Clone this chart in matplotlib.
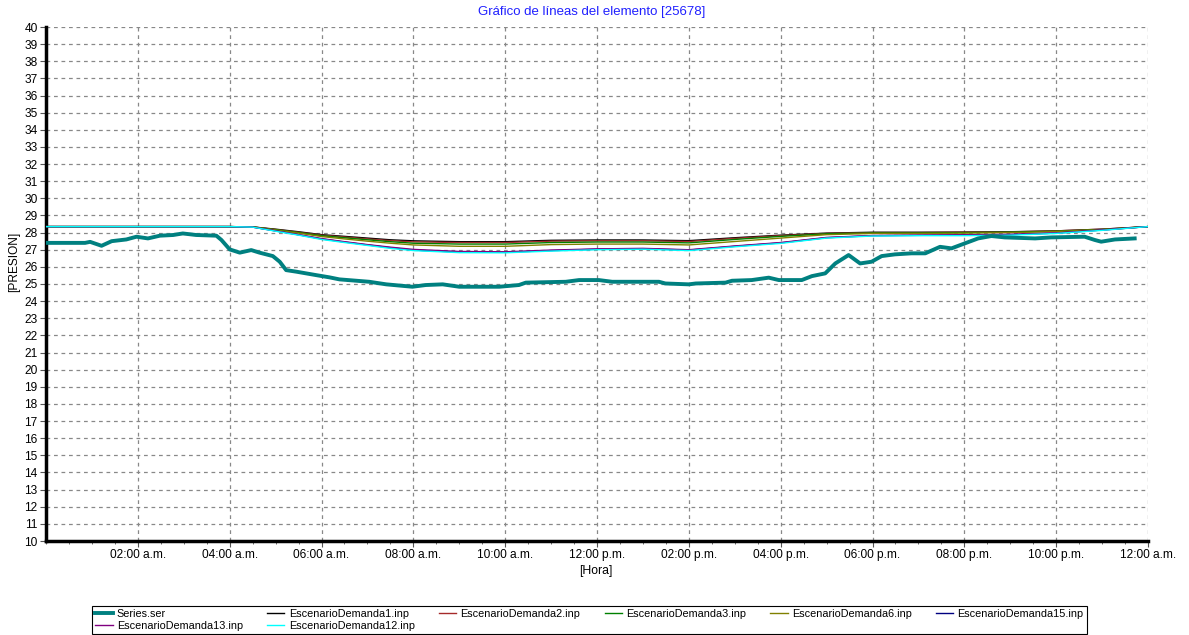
import numpy as np
from matplotlib import pyplot as plt
from matplotlib.ticker import MultipleLocator, FixedLocator

plt.rcParams['font.family'] = ['Liberation Sans', 'DejaVu Sans']

# medicion (hora del dia, presion)
series_h = [0, 0.85, 0.96, 1.21, 1.43, 1.75, 1.97, 2.22, 2.48, 2.77, 2.98, 3.27, 3.71, 3.82, 4.0,
            4.22, 4.47, 4.65, 4.94, 5.09, 5.23, 5.45, 5.88, 6.17, 6.39, 7.04, 7.41, 7.98, 8.27, 8.64,
            9.0, 9.87, 10.3, 10.45, 11.32, 11.61, 12.04, 12.33, 13.35, 13.49, 14.0, 14.15, 14.8, 14.94,
            15.37, 15.74, 15.96, 16.46, 16.68, 16.97, 17.19, 17.48, 17.73, 17.98, 18.2, 18.49, 18.85,
            19.15, 19.47, 19.72, 20.01, 20.3, 20.59, 20.88, 21.54, 21.89, 22.62, 22.84, 22.98, 23.28, 23.71]
series_v = [27.4, 27.4, 27.46, 27.23, 27.5, 27.6, 27.76, 27.66, 27.82, 27.86, 27.95, 27.86, 27.82, 27.57, 27.02,
            26.83, 26.98, 26.83, 26.63, 26.3, 25.81, 25.72, 25.52, 25.39, 25.27, 25.13, 24.98, 24.84, 24.94, 24.98,
            24.84, 24.84, 24.94, 25.08, 25.13, 25.23, 25.23, 25.13, 25.13, 25.03, 24.98, 25.03, 25.08, 25.19,
            25.23, 25.37, 25.23, 25.23, 25.46, 25.62, 26.2, 26.69, 26.2, 26.3, 26.63, 26.73, 26.79,
            26.79, 27.17, 27.08, 27.37, 27.66, 27.8, 27.72, 27.66, 27.72, 27.76, 27.57, 27.47, 27.6, 27.66]

# escenarios simulados
scen_h = [0, 1, 2, 3, 4, 4.5, 5, 5.5, 6, 6.5, 7, 7.5, 8, 9, 10, 11, 12, 13, 14, 15, 16, 17, 18, 19, 20, 21, 22, 23, 24]
dem1 = [28.35, 28.35, 28.35, 28.35, 28.35, 28.33, 28.2, 28.05, 27.88, 27.78, 27.68, 27.58, 27.52, 27.47, 27.47,
        27.55, 27.57, 27.57, 27.53, 27.7, 27.85, 27.97, 28.02, 28.02, 28.03, 28.05, 28.1, 28.2, 28.35]
dem2 = [28.35, 28.35, 28.35, 28.35, 28.35, 28.33, 28.18, 28.02, 27.85, 27.74, 27.63, 27.53, 27.46, 27.42, 27.42,
        27.5, 27.52, 27.52, 27.48, 27.66, 27.82, 27.95, 28.0, 28.0, 28.02, 28.04, 28.1, 28.2, 28.35]
dem3 = [28.35, 28.35, 28.35, 28.35, 28.35, 28.33, 28.17, 28.0, 27.82, 27.7, 27.58, 27.47, 27.38, 27.33, 27.33,
        27.42, 27.45, 27.45, 27.4, 27.6, 27.78, 27.93, 27.98, 27.98, 28.0, 28.03, 28.08, 28.18, 28.35]
dem6 = [28.35, 28.35, 28.35, 28.35, 28.35, 28.33, 28.15, 27.97, 27.77, 27.63, 27.5, 27.38, 27.28, 27.2, 27.2,
        27.3, 27.33, 27.33, 27.28, 27.48, 27.68, 27.88, 27.95, 27.95, 27.97, 28.0, 28.06, 28.17, 28.35]
dem15 = [28.35, 28.35, 28.35, 28.35, 28.35, 28.32, 28.1, 27.87, 27.63, 27.45, 27.28, 27.12, 26.98, 26.86, 26.85,
         26.95, 27.03, 27.06, 26.98, 27.2, 27.4, 27.7, 27.82, 27.84, 27.86, 27.88, 27.97, 28.15, 28.35]
dem13 = [28.35, 28.35, 28.35, 28.35, 28.35, 28.32, 28.1, 27.88, 27.65, 27.47, 27.3, 27.15, 27.02, 26.9, 26.88,
         26.98, 27.05, 27.08, 27.0, 27.22, 27.42, 27.72, 27.83, 27.85, 27.87, 27.9, 27.98, 28.15, 28.35]
dem12 = [28.35, 28.35, 28.35, 28.35, 28.35, 28.32, 28.08, 27.85, 27.6, 27.42, 27.25, 27.08, 26.95, 26.83, 26.82,
         26.92, 27.0, 27.03, 26.95, 27.17, 27.37, 27.68, 27.8, 27.82, 27.82, 27.85, 27.95, 28.13, 28.35]

scenarios = [
    ("EscenarioDemanda1.inp", dem1, "#000000"),
    ("EscenarioDemanda2.inp", dem2, "#a52a2a"),
    ("EscenarioDemanda3.inp", dem3, "#008000"),
    ("EscenarioDemanda6.inp", dem6, "#808000"),
    ("EscenarioDemanda15.inp", dem15, "#000080"),
    ("EscenarioDemanda13.inp", dem13, "#800080"),
    ("EscenarioDemanda12.inp", dem12, "#00ffff"),
]

x_ticks = [2, 4, 6, 8, 10, 12, 14, 16, 18, 20, 22, 24]
x_labels = ["02:00 a.m.", "04:00 a.m.", "06:00 a.m.", "08:00 a.m.", "10:00 a.m.", "12:00 p.m.",
            "02:00 p.m.", "04:00 p.m.", "06:00 p.m.", "08:00 p.m.", "10:00 p.m.", "12:00 a.m."]

fig = plt.figure(figsize=(11.89, 6.35), dpi=100)
ax = fig.add_axes([46 / 1189, 1 - 541 / 635, (1148 - 46) / 1189, (541 - 27) / 635])

handles = {}
h, = ax.plot(series_h, series_v, color="#008080", lw=2.8, label="Series.ser", zorder=5)
handles["Series.ser"] = h
for name, vals, col in scenarios:
    h, = ax.plot(scen_h, vals, color=col, lw=1.0, label=name, zorder=4)
    handles[name] = h

ax.set_xlim(0, 24)
ax.set_ylim(10, 40)
ax.yaxis.set_major_locator(MultipleLocator(1))
ax.xaxis.set_major_locator(FixedLocator(x_ticks))
ax.xaxis.set_minor_locator(MultipleLocator(0.5))
ax.set_xticklabels(x_labels)
ax.tick_params(axis="both", which="major", labelsize=8.6, length=4, color="#555555", pad=2)
ax.tick_params(axis="x", which="minor", length=2.5, color="#555555")
ax.grid(True, which="major", color="#888888", linestyle=(0, (3, 3)), lw=0.9)
for s in ["top", "right"]:
    ax.spines[s].set_visible(False)
ax.spines["left"].set_linewidth(2.5)
ax.spines["bottom"].set_linewidth(2.5)

fig.text(592 / 1189, 1 - 12 / 635, "Gráfico de líneas del elemento [25678]", color="#2020ff",
         ha="center", va="center", fontsize=9.5)
fig.text(14 / 1189, 1 - 262 / 635, "[PRESION]", rotation=90, ha="center", va="center", fontsize=8.6)
fig.text(596 / 1189, 1 - 571 / 635, "[Hora]", ha="center", va="center", fontsize=8.8)

# orden por columnas para que la leyenda quede por filas
order = ["Series.ser", "EscenarioDemanda13.inp", "EscenarioDemanda1.inp", "EscenarioDemanda12.inp",
         "EscenarioDemanda2.inp", "EscenarioDemanda3.inp", "EscenarioDemanda6.inp", "EscenarioDemanda15.inp"]
leg = fig.legend([handles[k] for k in order], order, loc="lower left",
                 bbox_to_anchor=(92 / 1189, 1 / 635, 995 / 1189, 37 / 635), mode="expand",
                 ncol=6, fontsize=7.8, fancybox=False, edgecolor="black", framealpha=1,
                 borderaxespad=0, handlelength=1.6, handletextpad=0.4, labelspacing=0.15,
                 borderpad=0.3, columnspacing=0.5)
leg.get_frame().set_linewidth(0.8)

fig.savefig("out.png", dpi=100)
